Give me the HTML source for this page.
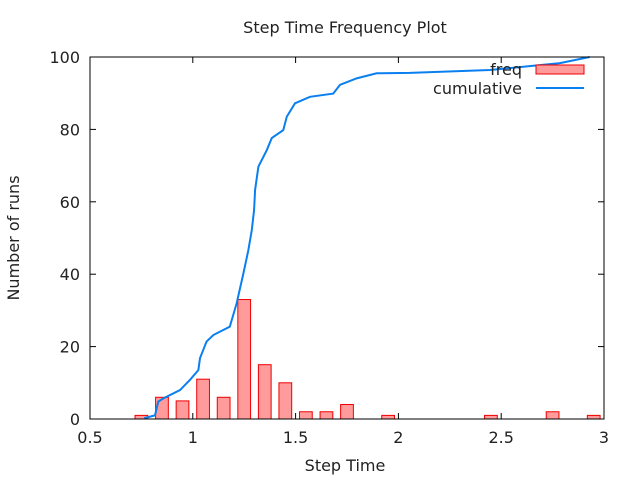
<!DOCTYPE html>
<html><head><meta charset="utf-8"><style>
body{margin:0;background:#fff;width:640px;height:480px;overflow:hidden}
text{font-family:"DejaVu Sans","Liberation Sans",sans-serif;font-size:16px;fill:#222}
</style></head><body>
<svg id="c" width="640" height="480">
<text x="345" y="33" text-anchor="middle">Step Time Frequency Plot</text>
<text x="345" y="471" text-anchor="middle">Step Time</text>
<text transform="translate(19,238) rotate(-90)" text-anchor="middle">Number of runs</text>
<g id="ticks"></g>
<g id="bars"></g>
<path id="cum" fill="none" stroke="#0a7ff0" stroke-width="2"/>
<rect x="90" y="57" width="514" height="362" fill="none" stroke="#000" stroke-width="1"/>
<g>
<text x="522" y="75" text-anchor="end">freq</text>
<rect x="536" y="65" width="48" height="9" fill="#ff9b9b" stroke="#e00"/>
<text x="522" y="94" text-anchor="end">cumulative</text>
<line x1="536" y1="88" x2="584" y2="88" stroke="#0a7ff0" stroke-width="2"/>
</g>
</svg>
<script>
const binCenters=[0.75,0.85,0.95,1.05,1.15,1.25,1.35,1.45,1.55,1.65,1.75,1.95,2.45,2.75,2.95];
const freqValues=[1,6,5,11,6,33,15,10,2,2,4,1,1,2,1];
const cumX=[0.768,0.816,0.832,0.857,0.938,0.986,1.027,1.035,1.067,1.1,1.18,1.213,1.246,1.27,1.287,1.298,1.303,1.319,1.36,1.384,1.44,1.457,1.497,1.57,1.683,1.716,1.797,1.894,2.056,2.445,2.786,2.93];
const cumY=[0.3,1,4.8,5.7,8,10.8,13.5,16.8,21.4,23.2,25.5,31.9,40.2,46.6,52.2,57.7,63.3,69.7,74.3,77.6,79.8,83.5,87.2,89,89.9,92.3,94.1,95.5,95.6,96.4,98.3,100];
const xTicks=[0.5,1,1.5,2,2.5,3];
const xTickLabels=["0.5","1","1.5","2","2.5","3"];
const yTicks=[0,20,40,60,80,100];
const yTickLabels=["0","20","40","60","80","100"];
const X0=90,X1=604,Y0=419,Y1=57;
const sx=v=>X0+(v-0.5)/2.5*(X1-X0);
const sy=v=>Y0-v/100*(Y0-Y1);
const NS="http://www.w3.org/2000/svg";
const tg=document.getElementById('ticks');
xTicks.forEach((t,i)=>{
 const x=sx(t);
 for(const [a,b] of [[Y0,Y0-6],[Y1,Y1+6]]){
  const l=document.createElementNS(NS,'line');
  l.setAttribute('x1',x);l.setAttribute('x2',x);l.setAttribute('y1',a);l.setAttribute('y2',b);l.setAttribute('stroke','#000');
  
  
  tg.appendChild(l);
 }
 const tx=document.createElementNS(NS,'text');
 tx.setAttribute('x',x);tx.setAttribute('y',443);tx.setAttribute('text-anchor','middle');tx.textContent=xTickLabels[i];
 
 
 tg.appendChild(tx);
});
yTicks.forEach((t,i)=>{
 const y=sy(t);
 for(const [a,b] of [[X0,X0+6],[X1,X1-6]]){
  const l=document.createElementNS(NS,'line');
  l.setAttribute('x1',a);l.setAttribute('x2',b);l.setAttribute('y1',y);l.setAttribute('y2',y);l.setAttribute('stroke','#000');
  
  
  tg.appendChild(l);
 }
 const tx=document.createElementNS(NS,'text');
 tx.setAttribute('x',80);tx.setAttribute('y',y+6);tx.setAttribute('text-anchor','end');tx.textContent=yTickLabels[i];
 
 
 tg.appendChild(tx);
});
const bg=document.getElementById('bars');
binCenters.forEach((c,i)=>{
 const r=document.createElementNS(NS,'rect');
 const x0=sx(c-0.031),x1=sx(c+0.031);
 r.setAttribute('x',x0);r.setAttribute('width',x1-x0);
 r.setAttribute('y',sy(freqValues[i]));r.setAttribute('height',Y0-sy(freqValues[i]));
 r.setAttribute('fill','#ff9b9b');r.setAttribute('stroke','#e00');
 
 
 bg.appendChild(r);
});
let d='M'+sx(cumX[0])+','+sy(0);
cumX.forEach((x,i)=>{d+=' L'+sx(x)+','+sy(cumY[i]);});
document.getElementById('cum').setAttribute('d',d);
</script>
</body></html>
